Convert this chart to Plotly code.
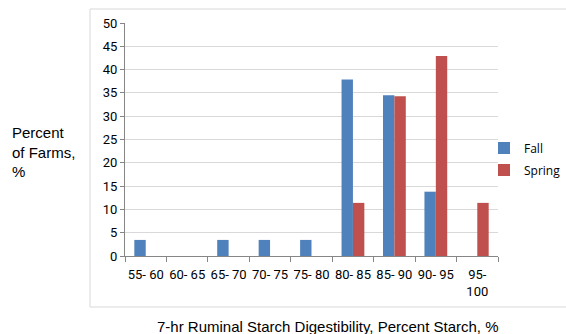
import plotly.graph_objects as go

categories = ["55- 60", "60- 65", "65- 70", "70- 75", "75- 80", "80- 85", "85- 90", "90- 95", "95-<br>100"]
fall = [3.45, 0, 3.45, 3.45, 3.45, 37.9, 34.5, 13.8, 0]
spring = [0, 0, 0, 0, 0, 11.4, 34.3, 42.9, 11.4]
y_ticks = [0, 5, 10, 15, 20, 25, 30, 35, 40, 45, 50]

fig = go.Figure()
fig.add_bar(x=categories, y=fall, name="Fall", marker_color="#4F81BD",
            marker_line_width=0, legendgroup="a")
fig.add_bar(x=categories, y=spring, name="Spring", marker_color="#C0504D",
            marker_line_width=0, legendgroup="b")

fig.update_layout(
    width=566, height=334,
    margin=dict(l=125, r=68, t=23, b=78, autoexpand=False),
    plot_bgcolor="white", paper_bgcolor="white",
    barmode="group", bargap=0.45, bargroupgap=0,
    font=dict(family="Liberation Sans, Arial", size=12, color="#000000"),
    showlegend=True,
    legend=dict(x=(484 - 125) / 373, y=(256 - 159) / 233, xanchor="left", yanchor="middle",
                font=dict(family="Open Sans", size=12), traceorder="grouped",
                itemwidth=30, tracegroupgap=3, bgcolor="rgba(0,0,0,0)"),
    xaxis=dict(type="category", showline=True, linecolor="#868686", linewidth=1,
               ticks="outside", tickson="boundaries", ticklen=5, tickcolor="#868686",
               tickangle=0, ticklabelstandoff=6,
               tickfont=dict(family="Roboto", size=13), showgrid=False),
    yaxis=dict(range=[0, 50], tickvals=y_ticks, showline=True, linecolor="#868686",
               linewidth=1, ticks="outside", ticklen=4, tickcolor="#868686",
               gridcolor="#D9D9D9", gridwidth=1,
               tickfont=dict(family="Roboto", size=13), zeroline=False),
    shapes=[dict(type="rect", xref="paper", yref="paper",
                 x0=(90 - 125) / 373, x1=(600 - 125) / 373,
                 y0=-(307 - 256) / 233, y1=(256 - 9) / 233,
                 line=dict(color="#D9D9D9", width=1), layer="below")],
    annotations=[
        dict(text="Percent<br>of Farms,<br>%", xref="paper", yref="paper",
             x=-(125 - 10) / 373, y=(256 - 152) / 233, xanchor="left", yanchor="middle",
             align="left", showarrow=False,
             font=dict(family="Liberation Sans, Arial", size=15)),
        dict(text="7-hr Ruminal Starch Digestibility, Percent Starch, %",
             xref="paper", yref="paper", x=(328 - 125) / 373, y=-(326 - 256) / 233,
             xanchor="center", yanchor="middle", showarrow=False,
             font=dict(family="Liberation Sans, Arial", size=15)),
    ],
)

fig.write_html("out.html")
